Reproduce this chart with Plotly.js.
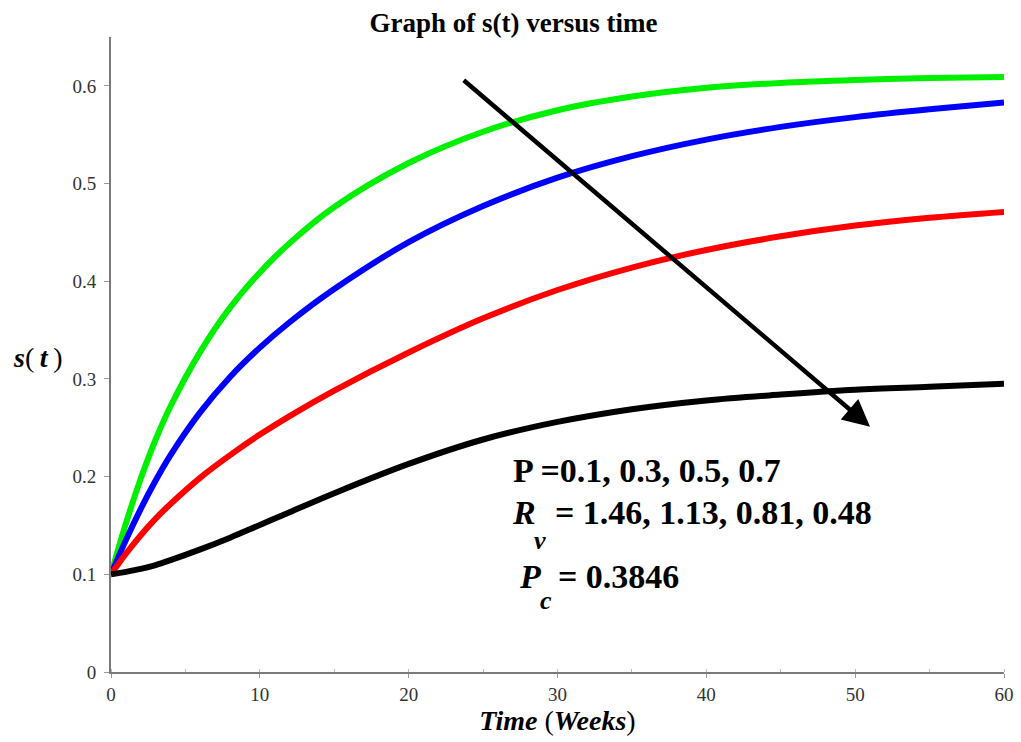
<!DOCTYPE html>
<html>
<head>
<meta charset="utf-8">
<script src="https://cdn.plot.ly/plotly-3.0.1.min.js"></script>
<style>html,body{margin:0;padding:0;background:#fff;}#chart{width:1021px;height:742px;}</style>
</head>
<body>
<div id="chart"></div>
<script>
// time in weeks
const time = [0, 1, 2, 3, 4, 6, 8, 10, 12, 15, 20, 25, 30, 35, 40, 45, 50, 55, 60];
// s(t) for P = 0.1 (green), 0.3 (blue), 0.5 (red), 0.7 (black)
const sP01 = [0.1, 0.152, 0.198, 0.238, 0.272, 0.328, 0.373, 0.409, 0.439, 0.476, 0.521, 0.553, 0.575, 0.589, 0.598, 0.603, 0.606, 0.608, 0.609];
const sP03 = [0.1, 0.135, 0.167, 0.196, 0.222, 0.266, 0.302, 0.332, 0.358, 0.392, 0.44, 0.477, 0.506, 0.528, 0.545, 0.558, 0.568, 0.576, 0.583];
const sP05 = [0.1, 0.121, 0.14, 0.157, 0.172, 0.199, 0.222, 0.243, 0.262, 0.288, 0.327, 0.362, 0.391, 0.414, 0.432, 0.446, 0.457, 0.465, 0.471];
const sP07 = [0.1, 0.1025, 0.1055, 0.1095, 0.1145, 0.1255, 0.1375, 0.1505, 0.1635, 0.183, 0.213, 0.238, 0.256, 0.269, 0.278, 0.284, 0.289, 0.292, 0.295];

const xTicks = [0, 10, 20, 30, 40, 50, 60];
const yTicks = [0, 0.1, 0.2, 0.3, 0.4, 0.5, 0.6];
const yTickText = ['0', '0.1', '0.2', '0.3', '0.4', '0.5', '0.6'];

const series = [
  {y: sP01, color: '#00f000'},
  {y: sP03, color: '#0000ff'},
  {y: sP05, color: '#ff0000'},
  {y: sP07, color: '#000000'}
];

const traces = series.map(s => ({
  x: time, y: s.y, type: 'scatter', mode: 'lines',
  line: {color: s.color, width: 6, shape: 'spline', smoothing: 1},
  hoverinfo: 'skip', showlegend: false
}));

const serif = '"Liberation Serif", "Times New Roman", serif';
const big = {family: serif, size: 34, color: '#000'};
const sub = {family: serif, size: 26, color: '#000'};

const layout = {
  width: 1021, height: 742,
  margin: {l: 111, r: 17, t: 37, b: 70},
  paper_bgcolor: '#fff', plot_bgcolor: '#fff',
  showlegend: false,
  title: {text: '<b>Graph of s(t) versus time</b>', font: {family: serif, size: 27, color: '#000'},
          x: 0.503, xref: 'container', xanchor: 'center', y: 0.97, yanchor: 'middle'},
  xaxis: {
    range: [0, 60], tickvals: xTicks, ticktext: xTicks.map(String),
    showgrid: false, zeroline: false, showline: true, linecolor: '#7a7a7a', linewidth: 2,
    ticks: 'outside', ticklen: 4, tickcolor: '#999', tickwidth: 1,
    minor: {dtick: 5, tick0: 5, ticks: 'inside', ticklen: 3, tickcolor: '#bbb', showgrid: false},
    tickfont: {family: serif, size: 19, color: '#333'},
    title: {text: '<b><i>Time</i></b> (<b><i>Weeks</i></b>)', font: {family: serif, size: 28, color: '#000'}, standoff: 7}
  },
  yaxis: {
    range: [0, 0.65], tickvals: yTicks, ticktext: yTickText,
    showgrid: false, zeroline: false, showline: true, linecolor: '#7a7a7a', linewidth: 2,
    ticks: 'outside', ticklen: 5, tickcolor: '#999', tickwidth: 1,
    ticklabelstandoff: 4,
    tickfont: {family: serif, size: 19, color: '#333'}
  },
  annotations: [
    {x: -0.112, y: 0.495, xref: 'paper', yref: 'paper', xanchor: 'left', yanchor: 'middle', showarrow: false,
     text: '<b><i>s</i></b>(\u2009<b><i>t</i></b>\u2009)', font: {family: serif, size: 28, color: '#000'}},
    {x: 51.0, y: 0.251, ax: 23.6, ay: 0.607, xref: 'x', yref: 'y', axref: 'x', ayref: 'y',
     text: '', showarrow: true, arrowhead: 2, arrowsize: 1.2, arrowwidth: 4.5, arrowcolor: '#000'},
    {x: 26.9, y: 0.206, xref: 'x', yref: 'y', xanchor: 'left', yanchor: 'middle', showarrow: false,
     text: '<b>P =0.1, 0.3, 0.5, 0.7</b>', font: big},
    {x: 26.8, y: 0.163, xref: 'x', yref: 'y', xanchor: 'left', yanchor: 'middle', showarrow: false,
     text: '<b><i>R</i></b>', font: big},
    {x: 29.7, y: 0.163, xref: 'x', yref: 'y', xanchor: 'left', yanchor: 'middle', showarrow: false,
     text: '<b>= 1.46, 1.13, 0.81, 0.48</b>', font: big},
    {x: 28.3, y: 0.135, xref: 'x', yref: 'y', xanchor: 'left', yanchor: 'middle', showarrow: false,
     text: '<b><i>v</i></b>', font: sub},
    {x: 27.3, y: 0.0975, xref: 'x', yref: 'y', xanchor: 'left', yanchor: 'middle', showarrow: false,
     text: '<b><i>P</i></b>', font: big},
    {x: 29.9, y: 0.0975, xref: 'x', yref: 'y', xanchor: 'left', yanchor: 'middle', showarrow: false,
     text: '<b>= 0.3846</b>', font: big},
    {x: 28.7, y: 0.073, xref: 'x', yref: 'y', xanchor: 'left', yanchor: 'middle', showarrow: false,
     text: '<b><i>c</i></b>', font: sub}
  ]
};

Plotly.newPlot('chart', traces, layout, {staticPlot: true, displayModeBar: false});
</script>
</body>
</html>
